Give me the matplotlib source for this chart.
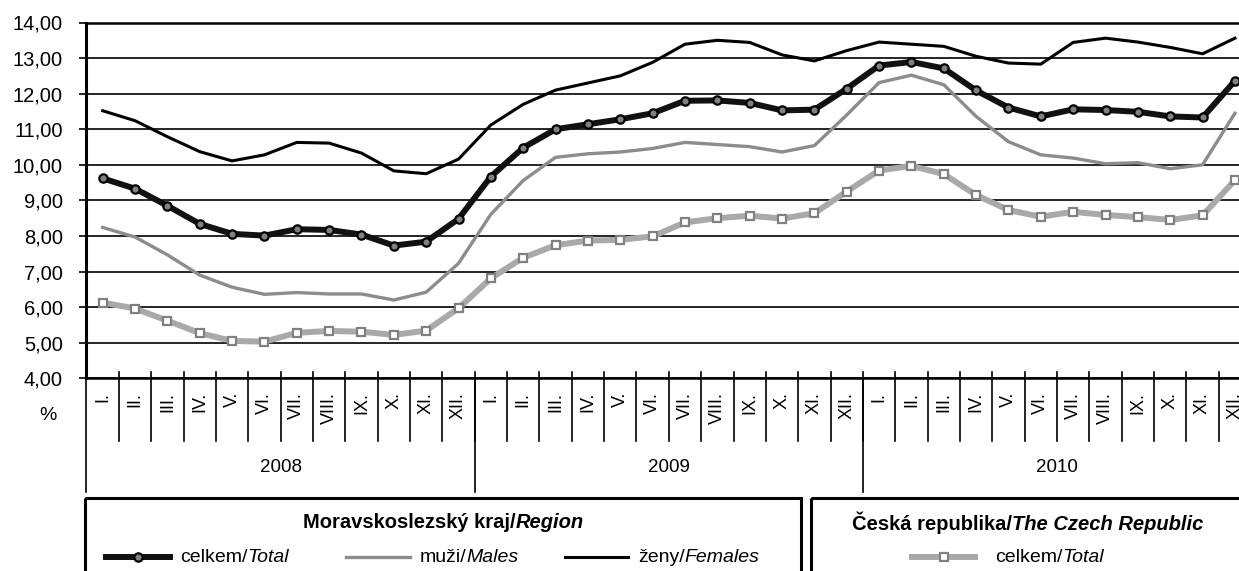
import numpy as np
import matplotlib
matplotlib.use("Agg")
import matplotlib.pyplot as plt
from matplotlib.patches import Rectangle
from matplotlib.lines import Line2D

plt.rcParams['font.family'] = ['Liberation Sans', 'DejaVu Sans']

# data (unemployment rate, %)
months = ["I.", "II.", "III.", "IV.", "V.", "VI.", "VII.", "VIII.", "IX.", "X.", "XI.", "XII."]
years = ["2008", "2009", "2010"]

msk_total = [9.62, 9.33, 8.85, 8.34, 8.06, 8.01, 8.19, 8.17, 8.04, 7.73, 7.84, 8.48,
             9.67, 10.48, 11.00, 11.14, 11.28, 11.45, 11.80, 11.81, 11.74, 11.53, 11.55, 12.14,
             12.79, 12.89, 12.71, 12.09, 11.61, 11.36, 11.56, 11.54, 11.49, 11.36, 11.33, 12.36]
msk_males = [8.24, 7.97, 7.47, 6.90, 6.56, 6.36, 6.41, 6.37, 6.37, 6.20, 6.42, 7.23,
             8.61, 9.56, 10.21, 10.31, 10.36, 10.46, 10.63, 10.57, 10.51, 10.36, 10.54, 11.40,
             12.31, 12.52, 12.25, 11.36, 10.65, 10.28, 10.19, 10.03, 10.06, 9.89, 10.00, 11.45]
msk_females = [11.52, 11.24, 10.79, 10.37, 10.11, 10.28, 10.63, 10.61, 10.33, 9.83, 9.75, 10.16,
               11.12, 11.70, 12.10, 12.30, 12.50, 12.88, 13.39, 13.50, 13.44, 13.09, 12.92, 13.21,
               13.45, 13.39, 13.33, 13.05, 12.86, 12.83, 13.44, 13.56, 13.45, 13.30, 13.12, 13.56]
cr_total = [6.13, 5.96, 5.62, 5.27, 5.05, 5.03, 5.28, 5.33, 5.31, 5.22, 5.34, 5.97,
            6.81, 7.39, 7.74, 7.87, 7.89, 7.99, 8.38, 8.50, 8.57, 8.49, 8.64, 9.25,
            9.84, 9.97, 9.74, 9.15, 8.73, 8.54, 8.68, 8.59, 8.53, 8.45, 8.58, 9.57]

W, H = 1239, 571
fig = plt.figure(figsize=(W / 100, H / 100), dpi=100)

# overlay in pixel coordinates for the legend boxes
ov = fig.add_axes([0, 0, 1, 1])
ov.set_xlim(0, W)
ov.set_ylim(H, 0)
ov.axis('off')

# main plot (runs a little past the right edge, as in the original)
ax_l, ax_t, ax_b = 86.5, 22.5, 378.3
cell = 32.35
ax = fig.add_axes([ax_l / W, 1 - ax_b / H, 36 * cell / W, (ax_b - ax_t) / H])

x = np.arange(36)
ax.plot(x, msk_females, color='black', lw=2.2, zorder=3)
ax.plot(x, msk_males, color='#8c8c8c', lw=2.4, zorder=3)
ax.plot(x, cr_total, color='#a9a9a9', lw=4.3, marker='s', ms=5.5, mfc='white',
        mec='#808080', mew=1.6, zorder=4)
ax.plot(x, msk_total, color='#111111', lw=4.3, marker='o', ms=6, mfc='#808080',
        mec='black', mew=1.6, zorder=5)

ax.set_xlim(-0.5, 35.5)
ax.set_ylim(4, 14)
ax.set_yticks(range(4, 15))
ax.set_yticklabels([f"{v},00" for v in range(4, 15)], fontsize=14.5)
ax.tick_params(axis='y', direction='out', length=5, width=1.2, pad=12)
ax.set_xticks([])
ax.yaxis.grid(True, color='black', lw=1.2)
ax.set_axisbelow(True)
ax.spines['right'].set_visible(False)
ax.spines['left'].set_linewidth(2.2)
ax.spines['bottom'].set_linewidth(1.8)
ax.spines['top'].set_linewidth(1.8)

# category axis: month cells and year groups
tr = ax.get_xaxis_transform()
ph = ax_b - ax_t
fy = lambda ypix: (ax_b - ypix) / ph
for i in range(1, 36):
    ax.plot([i - 0.5, i - 0.5], [fy(371.7), fy(440.7)], color='black', lw=1.2,
            transform=tr, clip_on=False)
for b in [-0.5, 11.5, 23.5, 35.5]:
    ax.plot([b, b], [0, fy(491.7)], color='black', lw=1.2, transform=tr, clip_on=False)
for k in range(36):
    ax.text(k, fy(392), months[k % 12], rotation=90, ha='center', va='top',
            fontsize=13, transform=tr, clip_on=False)
for j, yr in enumerate(years):
    ax.text(j * 12 + 5.5, fy(467), yr, ha='center', va='center', fontsize=13.5,
            transform=tr, clip_on=False)
ov.text(48, 415, "%", ha='center', va='center', fontsize=14)

# legend boxes
ov.add_patch(Rectangle((85, 498), 716, 120, fill=False, lw=2.2, ec='black'))
ov.add_patch(Rectangle((811, 498), 460, 120, fill=False, lw=2.2, ec='black'))

fig.canvas.draw()
rend = fig.canvas.get_renderer()


def two_part(xpos, y, a, b, weight='normal', size=14, center=False):
    t1 = ov.text(xpos, y, a, ha='left', va='center', fontsize=size, fontweight=weight)
    t2 = ov.annotate(b, xy=(1, 0), xycoords=t1, ha='left', va='bottom',
                     fontsize=size, fontweight=weight, fontstyle='italic')
    if center:
        w = t1.get_window_extent(rend).width + t2.get_window_extent(rend).width
        t1.set_x(xpos - w / 2)
    return t1, t2


two_part(443, 523, "Moravskoslezský kraj/", "Region", weight='bold', size=14.5, center=True)
two_part(1028, 523, "Česká republika/", "The Czech Republic", weight='bold', size=14.5,
         center=True)

ey = 557
ov.add_line(Line2D([106, 170], [ey, ey], color='#111111', lw=4.3))
ov.add_line(Line2D([138], [ey], marker='o', ms=6, mfc='#808080', mec='black', mew=1.6))
two_part(180, ey, "celkem/", "Total", size=14)
ov.add_line(Line2D([346, 410], [ey, ey], color='#8c8c8c', lw=2.4))
two_part(420, ey, "muži/", "Males", size=14)
ov.add_line(Line2D([565, 628], [ey, ey], color='black', lw=2.2))
two_part(638, ey, "ženy/", "Females", size=14)
ov.add_line(Line2D([912, 975], [ey, ey], color='#a9a9a9', lw=4.3))
ov.add_line(Line2D([944], [ey], marker='s', ms=5.5, mfc='white', mec='#808080', mew=1.6))
two_part(995, ey, "celkem/", "Total", size=14)

fig.savefig("out.png", dpi=100)
